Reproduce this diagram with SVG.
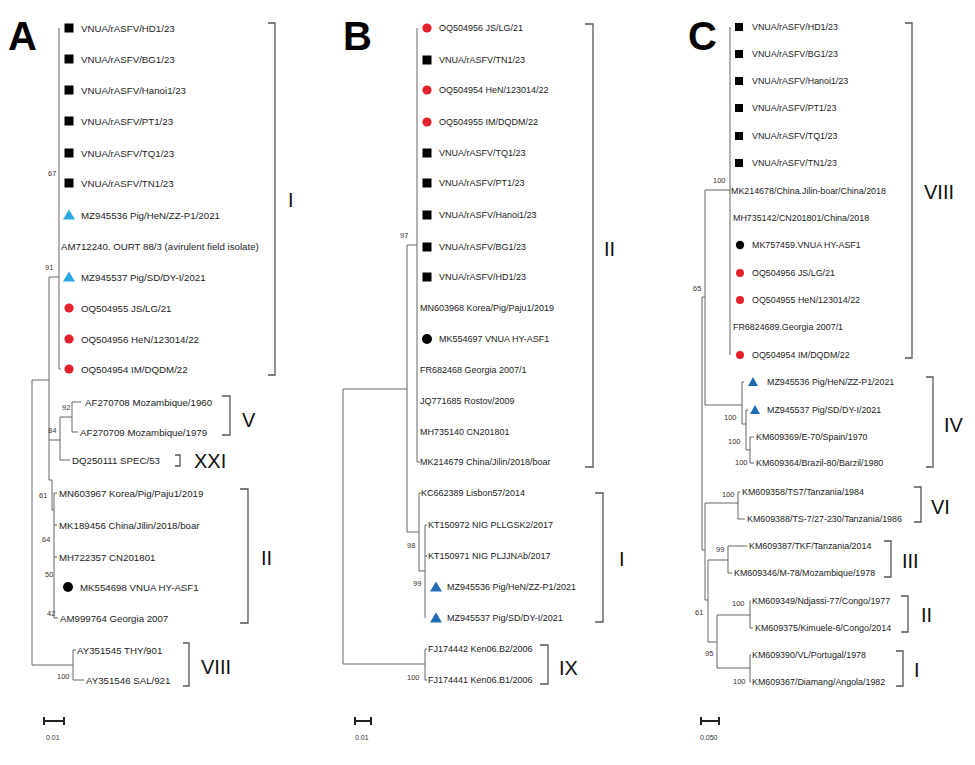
<svg xmlns="http://www.w3.org/2000/svg" xmlns:xlink="http://www.w3.org/1999/xlink" width="975" height="765" viewBox="0 0 975 765">
<style>
text{font-family:"Liberation Sans",Arial,sans-serif}
.ta{font-size:9.7px;fill:#222}
.tb{font-size:9px;fill:#222}
.tc{font-size:8.9px;fill:#222}
.bs{font-size:7.5px;fill:#3a3030}
.cl{font-size:20px;fill:#111}
.pl{font-size:40px;font-weight:bold;fill:#000}
.sc{font-size:7px;fill:#333}
.e{stroke:#666;stroke-width:1;fill:none}
.br{stroke:#555;stroke-width:1.3;fill:none}
.sb{stroke:#222;stroke-width:2;fill:none}
</style>
<defs>
<rect id="sq" x="-4.5" y="-4.5" width="9" height="9" fill="#000"/>
<circle id="rc" r="4.6" fill="#e5212b"/>
<circle id="bc" r="5" fill="#000"/>
<polygon id="lt" points="-6,4.5 6,4.5 0,-5.5" fill="#29abe2"/>
<polygon id="dt" points="-6,4.5 6,4.5 0,-5.5" fill="#1f6cb5"/>
<rect id="sqc" x="-4" y="-4" width="8" height="8" fill="#000"/>
<circle id="rcc" r="4" fill="#e5212b"/>
<circle id="bcc" r="4.2" fill="#000"/>
<polygon id="dtc" points="-5,4 5,4 0,-5" fill="#1f6cb5"/>
</defs>

<g id="panel-letters">
<text class="pl" x="8" y="50">A</text>
<text class="pl" x="343" y="50">B</text>
<text class="pl" x="688" y="50">C</text>
</g>

<g id="connectors">
<path class="e" d="M32,380V665 M32,380H49 M49,277V480 M49,277H59 M59,28V369 M59,369H61 M49,440H60 M60,417V460 M60,417H72 M72,402V432 M72,402H81 M72,432H78 M60,460H70 M49,480H52 M52,480V510 M52,510H54 M54,493V618 M54,493H57 M54,525H57 M54,557H57 M54,618H58 M32,665H73 M73,650V680 M73,650H76 M73,680H84"/>
<path class="e" d="M343,389V664 M343,389H407 M407,245V532 M407,245H417 M417,28V462 M417,462H420 M407,532H419 M419,493V571 M419,493H421 M419,571H425 M425,525V618 M425,525H427 M425,556H427 M343,664H425 M425,649V680 M425,649H427 M425,680H427"/>
<path class="e" d="M702,297V550 M702,297H705 M705,190V405 M705,190H730 M730,27V355 M705,405H742 M742,382V424 M742,382H744 M742,424H746 M746,410V450 M746,410H748 M746,450H750 M750,437V463 M750,437H754 M750,463H754 M702,550H705 M705,503V600 M705,503H738 M738,492V519 M738,492H740 M738,519H745 M705,600H708 M708,560V642 M708,560H728 M728,546V573 M728,546H747 M728,573H732 M708,642H717 M717,615V668 M717,615H750 M750,601V628 M750,601H751 M750,628H753 M717,668H750 M750,655V682 M750,655H751 M750,682H751"/>
</g>

<g id="bootstrap">
<text class="bs" x="48" y="176">67</text>
<text class="bs" x="45" y="270">91</text>
<text class="bs" x="62" y="410">92</text>
<text class="bs" x="48" y="433">84</text>
<text class="bs" x="39" y="498">61</text>
<text class="bs" x="42" y="542">64</text>
<text class="bs" x="45" y="577">50</text>
<text class="bs" x="47" y="616">42</text>
<text class="bs" x="57" y="679">100</text>
<text class="bs" x="400" y="238">97</text>
<text class="bs" x="407" y="548">98</text>
<text class="bs" x="413" y="586">99</text>
<text class="bs" x="407" y="680">100</text>
<text class="bs" x="713" y="183">100</text>
<text class="bs" x="693" y="291">65</text>
<text class="bs" x="724" y="420">100</text>
<text class="bs" x="728" y="444">100</text>
<text class="bs" x="735" y="465">100</text>
<text class="bs" x="722" y="497">100</text>
<text class="bs" x="716" y="552">99</text>
<text class="bs" x="732" y="606">100</text>
<text class="bs" x="695" y="615">61</text>
<text class="bs" x="705" y="656">95</text>
<text class="bs" x="733" y="684">100</text>
</g>

<!-- Panel A leaves -->
<g id="A-HD1"><use href="#sq" x="69" y="28"/><text class="ta" x="81" y="31.5">VNUA/rASFV/HD1/23</text></g>
<g id="A-BG1"><use href="#sq" x="69" y="59"/><text class="ta" x="81" y="62.5">VNUA/rASFV/BG1/23</text></g>
<g id="A-Hanoi1"><use href="#sq" x="69" y="90"/><text class="ta" x="81" y="93.5">VNUA/rASFV/Hanoi1/23</text></g>
<g id="A-PT1"><use href="#sq" x="69" y="121"/><text class="ta" x="81" y="124.5">VNUA/rASFV/PT1/23</text></g>
<g id="A-TQ1"><use href="#sq" x="69" y="153"/><text class="ta" x="81" y="156.5">VNUA/rASFV/TQ1/23</text></g>
<g id="A-TN1"><use href="#sq" x="69" y="183"/><text class="ta" x="81" y="186.5">VNUA/rASFV/TN1/23</text></g>
<g id="A-MZ945536"><use href="#lt" x="69" y="215"/><text class="ta" x="81" y="218.5">MZ945536 Pig/HeN/ZZ-P1/2021</text></g>
<g id="A-AM712240"><text class="ta" x="61" y="249.5">AM712240. OURT 88/3 (avirulent field isolate)</text></g>
<g id="A-MZ945537"><use href="#lt" x="69" y="277"/><text class="ta" x="81" y="280.5">MZ945537 Pig/SD/DY-I/2021</text></g>
<g id="A-OQ504955"><use href="#rc" x="69" y="308"/><text class="ta" x="81" y="311.5">OQ504955 JS/LG/21</text></g>
<g id="A-OQ504956"><use href="#rc" x="69" y="339"/><text class="ta" x="81" y="342.5">OQ504956 HeN/123014/22</text></g>
<g id="A-OQ504954"><use href="#rc" x="69" y="369"/><text class="ta" x="81" y="372.5">OQ504954 IM/DQDM/22</text></g>
<g id="A-AF270708"><text class="ta" x="85" y="405.5">AF270708 Mozambique/1960</text></g>
<g id="A-AF270709"><text class="ta" x="80" y="435.5">AF270709 Mozambique/1979</text></g>
<g id="A-DQ250111"><text class="ta" x="72" y="463.5">DQ250111 SPEC/53</text></g>
<g id="A-MN603967"><text class="ta" x="59" y="496.5">MN603967 Korea/Pig/Paju1/2019</text></g>
<g id="A-MK189456"><text class="ta" x="59" y="528.5">MK189456 China/Jilin/2018/boar</text></g>
<g id="A-MH722357"><text class="ta" x="59" y="560.5">MH722357 CN201801</text></g>
<g id="A-MK554698"><use href="#bc" x="68" y="587"/><text class="ta" x="80" y="590.5">MK554698 VNUA HY-ASF1</text></g>
<g id="A-AM999764"><text class="ta" x="60" y="621.5">AM999764 Georgia 2007</text></g>
<g id="A-AY351545"><text class="ta" x="77" y="653.5">AY351545 THY/901</text></g>
<g id="A-AY351546"><text class="ta" x="86" y="683.5">AY351546 SAL/921</text></g>

<!-- Panel B leaves -->
<g id="B-OQ504956"><use href="#rc" x="427" y="28"/><text class="tb" x="439" y="31.2">OQ504956 JS/LG/21</text></g>
<g id="B-TN1"><use href="#sq" x="427" y="60"/><text class="tb" x="439" y="63.2">VNUA/rASFV/TN1/23</text></g>
<g id="B-OQ504954"><use href="#rc" x="427" y="90"/><text class="tb" x="439" y="93.2">OQ504954 HeN/123014/22</text></g>
<g id="B-OQ504955"><use href="#rc" x="427" y="122"/><text class="tb" x="439" y="125.2">OQ504955 IM/DQDM/22</text></g>
<g id="B-TQ1"><use href="#sq" x="427" y="153"/><text class="tb" x="439" y="156.2">VNUA/rASFV/TQ1/23</text></g>
<g id="B-PT1"><use href="#sq" x="427" y="183"/><text class="tb" x="439" y="186.2">VNUA/rASFV/PT1/23</text></g>
<g id="B-Hanoi1"><use href="#sq" x="427" y="215"/><text class="tb" x="439" y="218.2">VNUA/rASFV/Hanoi1/23</text></g>
<g id="B-BG1"><use href="#sq" x="427" y="247"/><text class="tb" x="439" y="250.2">VNUA/rASFV/BG1/23</text></g>
<g id="B-HD1"><use href="#sq" x="427" y="277"/><text class="tb" x="439" y="280.2">VNUA/rASFV/HD1/23</text></g>
<g id="B-MN603968"><text class="tb" x="420" y="311.2">MN603968 Korea/Pig/Paju1/2019</text></g>
<g id="B-MK554697"><use href="#bc" x="427" y="339"/><text class="tb" x="439" y="342.2">MK554697 VNUA HY-ASF1</text></g>
<g id="B-FR682468"><text class="tb" x="420" y="373.2">FR682468 Georgia 2007/1</text></g>
<g id="B-JQ771685"><text class="tb" x="420" y="404.2">JQ771685 Rostov/2009</text></g>
<g id="B-MH735140"><text class="tb" x="420" y="435.2">MH735140 CN201801</text></g>
<g id="B-MK214679"><text class="tb" x="420" y="465.2">MK214679 China/Jilin/2018/boar</text></g>
<g id="B-KC662389"><text class="tb" x="421" y="496.2">KC662389 Lisbon57/2014</text></g>
<g id="B-KT150972"><text class="tb" x="428" y="528.2">KT150972 NIG PLLGSK2/2017</text></g>
<g id="B-KT150971"><text class="tb" x="428" y="559.2">KT150971 NIG PLJJNAb/2017</text></g>
<g id="B-MZ945536"><use href="#dt" x="436" y="587"/><text class="tb" x="447" y="590.2">MZ945536 Pig/HeN/ZZ-P1/2021</text></g>
<g id="B-MZ945537"><use href="#dt" x="436" y="618"/><text class="tb" x="447" y="621.2">MZ945537 Pig/SD/DY-I/2021</text></g>
<g id="B-FJ174442"><text class="tb" x="428" y="652.2">FJ174442 Ken06.B2/2006</text></g>
<g id="B-FJ174441"><text class="tb" x="428" y="683.2">FJ174441 Ken06.B1/2006</text></g>

<!-- Panel C leaves -->
<g id="C-HD1"><use href="#sqc" x="739" y="27"/><text class="tc" x="752" y="30.2">VNUA/rASFV/HD1/23</text></g>
<g id="C-BG1"><use href="#sqc" x="739" y="54"/><text class="tc" x="752" y="57.2">VNUA/rASFV/BG1/23</text></g>
<g id="C-Hanoi1"><use href="#sqc" x="739" y="81"/><text class="tc" x="752" y="84.2">VNUA/rASFV/Hanoi1/23</text></g>
<g id="C-PT1"><use href="#sqc" x="739" y="108"/><text class="tc" x="752" y="111.2">VNUA/rASFV/PT1/23</text></g>
<g id="C-TQ1"><use href="#sqc" x="739" y="136"/><text class="tc" x="752" y="139.2">VNUA/rASFV/TQ1/23</text></g>
<g id="C-TN1"><use href="#sqc" x="739" y="163"/><text class="tc" x="752" y="166.2">VNUA/rASFV/TN1/23</text></g>
<g id="C-MK214678"><text class="tc" x="731" y="194.2">MK214678/China.Jilin-boar/China/2018</text></g>
<g id="C-MH735142"><text class="tc" x="733" y="221.2">MH735142/CN201801/China/2018</text></g>
<g id="C-MK757459"><use href="#bcc" x="740" y="245"/><text class="tc" x="752" y="248.2">MK757459.VNUA HY-ASF1</text></g>
<g id="C-OQ504956"><use href="#rcc" x="740" y="273"/><text class="tc" x="752" y="276.2">OQ504956 JS/LG/21</text></g>
<g id="C-OQ504955"><use href="#rcc" x="740" y="300"/><text class="tc" x="752" y="303.2">OQ504955 HeN/123014/22</text></g>
<g id="C-FR6824689"><text class="tc" x="733" y="330.2">FR6824689.Georgia 2007/1</text></g>
<g id="C-OQ504954"><use href="#rcc" x="740" y="355"/><text class="tc" x="752" y="358.2">OQ504954 IM/DQDM/22</text></g>
<g id="C-MZ945536"><use href="#dtc" x="753" y="382"/><text class="tc" x="767" y="385.2">MZ945536 Pig/HeN/ZZ-P1/2021</text></g>
<g id="C-MZ945537"><use href="#dtc" x="755" y="410"/><text class="tc" x="767" y="413.2">MZ945537 Pig/SD/DY-I/2021</text></g>
<g id="C-KM609369"><text class="tc" x="756" y="440.2">KM609369/E-70/Spain/1970</text></g>
<g id="C-KM609364"><text class="tc" x="756" y="466.2">KM609364/Brazil-80/Barzil/1980</text></g>
<g id="C-KM609358"><text class="tc" x="742" y="495.2">KM609358/TS7/Tanzania/1984</text></g>
<g id="C-KM609388"><text class="tc" x="747" y="522.2">KM609388/TS-7/27-230/Tanzania/1986</text></g>
<g id="C-KM609387"><text class="tc" x="749" y="549.2">KM609387/TKF/Tanzania/2014</text></g>
<g id="C-KM609346"><text class="tc" x="734" y="576.2">KM609346/M-78/Mozambique/1978</text></g>
<g id="C-KM609349"><text class="tc" x="752" y="604.2">KM609349/Ndjassi-77/Congo/1977</text></g>
<g id="C-KM609375"><text class="tc" x="755" y="631.2">KM609375/Kimuele-6/Congo/2014</text></g>
<g id="C-KM609390"><text class="tc" x="752" y="658.2">KM609390/VL/Portugal/1978</text></g>
<g id="C-KM609367"><text class="tc" x="752" y="685.2">KM609367/Diamang/Angola/1982</text></g>

<!-- Clade brackets -->
<g id="A-clade-I"><path class="br" d="M268,23H275V375H268"/><text class="cl" x="288" y="207">I</text></g>
<g id="A-clade-V"><path class="br" d="M222,396H230V435H222"/><text class="cl" x="242" y="427">V</text></g>
<g id="A-clade-XXI"><path class="br" d="M175,455H180V466H175"/><text class="cl" x="194" y="468">XXI</text></g>
<g id="A-clade-II"><path class="br" d="M240,489H248V623H240"/><text class="cl" x="261" y="565">II</text></g>
<g id="A-clade-VIII"><path class="br" d="M183,643H189V686H183"/><text class="cl" x="201" y="674">VIII</text></g>
<g id="B-clade-II"><path class="br" d="M585,24H593V467H585"/><text class="cl" x="604" y="256">II</text></g>
<g id="B-clade-I"><path class="br" d="M595,493H603V622H595"/><text class="cl" x="619" y="566">I</text></g>
<g id="B-clade-IX"><path class="br" d="M540,645H548V684H540"/><text class="cl" x="559" y="675">IX</text></g>
<g id="C-clade-VIII"><path class="br" d="M905,23H912V358H905"/><text class="cl" x="924" y="199">VIII</text></g>
<g id="C-clade-IV"><path class="br" d="M926,377H933V467H926"/><text class="cl" x="944" y="432">IV</text></g>
<g id="C-clade-VI"><path class="br" d="M914,487H921V522H914"/><text class="cl" x="931" y="514">VI</text></g>
<g id="C-clade-III"><path class="br" d="M884,541H891V577H884"/><text class="cl" x="902" y="568">III</text></g>
<g id="C-clade-II"><path class="br" d="M901,596H908V632H901"/><text class="cl" x="921" y="622">II</text></g>
<g id="C-clade-I"><path class="br" d="M896,651H903V686H896"/><text class="cl" x="914" y="677">I</text></g>

<!-- Scale bars -->
<g id="A-scale"><path class="sb" d="M44,717V725 M44,721H64 M64,717V725"/><text class="sc" x="46" y="740">0.01</text></g>
<g id="B-scale"><path class="sb" d="M355,717V725 M355,721H371 M371,717V725"/><text class="sc" x="355" y="740">0.01</text></g>
<g id="C-scale"><path class="sb" d="M701,717V725 M701,721H719 M719,717V725"/><text class="sc" x="700" y="740">0.050</text></g>
</svg>
